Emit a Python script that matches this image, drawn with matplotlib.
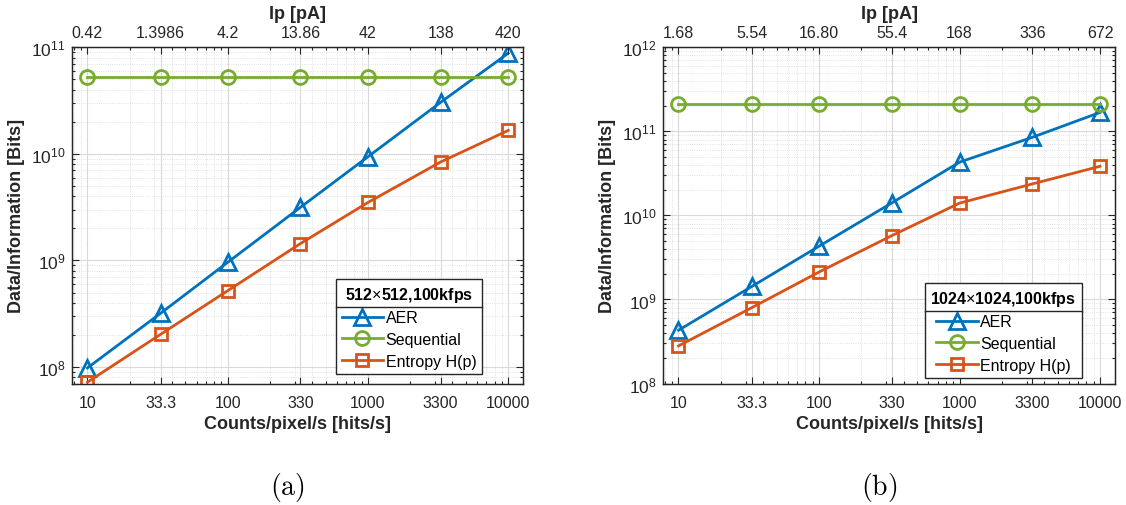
import matplotlib
matplotlib.use('Agg')
import matplotlib.pyplot as plt
from matplotlib.ticker import FixedLocator, NullFormatter, LogLocator
from matplotlib.lines import Line2D

plt.rcParams['font.family'] = ['Liberation Sans', 'DejaVu Sans']
plt.rcParams['mathtext.fontset'] = 'custom'
plt.rcParams['mathtext.rm'] = 'Liberation Sans'

# 数据
counts = [10, 33.3, 100, 330, 1000, 3300, 10000]
count_labels = ['10', '33.3', '100', '330', '1000', '3300', '10000']

ip_a = ['0.42', '1.3986', '4.2', '13.86', '42', '138', '420']
aer_a = [9.8e7, 3.2e8, 9.6e8, 3.15e9, 9.4e9, 3.05e10, 8.8e10]
seq_a = [5.3e10] * 7
ent_a = [7.2e7, 2.03e8, 5.2e8, 1.44e9, 3.5e9, 8.4e9, 1.66e10]

ip_b = ['1.68', '5.54', '16.80', '55.4', '168', '336', '672']
aer_b = [4.3e8, 1.43e9, 4.3e9, 1.41e10, 4.3e10, 8.5e10, 1.68e11]
seq_b = [2.12e11] * 7
ent_b = [2.8e8, 8.0e8, 2.12e9, 5.75e9, 1.4e10, 2.37e10, 3.84e10]

c_aer = '#0072BD'
c_seq = '#77AC30'
c_ent = '#D95319'
txt = '#262626'

fig = plt.figure(figsize=(11.26, 5.06), dpi=100)
ax1 = fig.add_axes([0.0642, 0.2401, 0.4005, 0.6644])
ax2 = fig.add_axes([0.5891, 0.2401, 0.4012, 0.6644])


def draw_panel(ax, ip_labels, aer, seq, ent, ylim, title, leg_pos):
    ax.plot(counts, aer, '-^', color=c_aer, lw=2, ms=11, mfc='none', mew=2, label='AER')
    ax.plot(counts, seq, '-o', color=c_seq, lw=2, ms=10, mfc='none', mew=2, label='Sequential')
    ax.plot(counts, ent, '-s', color=c_ent, lw=2, ms=9, mfc='none', mew=2, label='Entropy H(p)')
    ax.set_xscale('log')
    ax.set_yscale('log')
    ax.set_xlim(7.8, 12800)
    ax.set_ylim(*ylim)
    ax.xaxis.set_major_locator(FixedLocator(counts))
    ax.set_xticklabels(count_labels)
    ax.xaxis.set_minor_locator(LogLocator(base=10, subs=range(2, 10)))
    ax.xaxis.set_minor_formatter(NullFormatter())
    ax.yaxis.set_major_locator(LogLocator(base=10, numticks=10))
    ax.yaxis.set_minor_locator(LogLocator(base=10, subs=range(2, 10), numticks=10))
    ax.yaxis.set_minor_formatter(NullFormatter())
    ax.tick_params(which='both', direction='in', right=True, top=False, labelsize=11.5,
                   colors=txt, width=0.8)
    ax.tick_params(axis='x', which='major', pad=8)
    ax.tick_params(axis='y', which='major', labelsize=12.5, pad=5)
    ax.tick_params(which='major', length=5)
    ax.tick_params(which='minor', length=2.5)
    ax.grid(True, which='major', color='#d9d9d9', lw=0.8)
    ax.grid(True, which='minor', color='#d9d9d9', lw=0.6, ls=':')
    ax.set_axisbelow(True)
    for s in ax.spines.values():
        s.set_color(txt)
        s.set_linewidth(0.9)
    ax.set_xlabel('Counts/pixel/s [hits/s]', fontsize=13, fontweight='bold', color=txt, labelpad=4)
    ax.set_ylabel('Data/Information [Bits]', fontsize=13, fontweight='bold', color=txt, labelpad=4)

    # 顶部坐标轴 Ip
    top = ax.twiny()
    top.set_xscale('log')
    top.set_xlim(ax.get_xlim())
    top.xaxis.set_major_locator(FixedLocator(counts))
    top.set_xticklabels(ip_labels)
    top.xaxis.set_minor_locator(LogLocator(base=10, subs=range(2, 10)))
    top.xaxis.set_minor_formatter(NullFormatter())
    top.tick_params(which='both', direction='in', labelsize=11.5, colors=txt, width=0.8)
    top.tick_params(which='major', length=5, pad=5)
    top.tick_params(which='minor', length=2.5)
    for s in top.spines.values():
        s.set_color(txt)
        s.set_linewidth(0.9)
    top.set_xlabel('Ip [pA]', fontsize=13, fontweight='bold', color=txt, labelpad=5)

    leg = ax.legend(loc='upper left', bbox_to_anchor=leg_pos, title=title, fontsize=11.5,
                    title_fontproperties={'weight': 'bold', 'size': 11.5}, fancybox=False,
                    edgecolor=txt, framealpha=1, handlelength=2.6, handletextpad=0.15,
                    borderpad=0.35, labelspacing=0.42, borderaxespad=0)
    leg.get_frame().set_linewidth(1.0)
    leg.set_zorder(10)
    return leg


leg1 = draw_panel(ax1, ip_a, aer_a, seq_a, ent_a, (7e7, 1e11), '512$\\times$512,100kfps', (0.585, 0.311))
leg2 = draw_panel(ax2, ip_b, aer_b, seq_b, ent_b, (1e8, 1e12), '1024$\\times$1024,100kfps', (0.579, 0.299))

# 图例标题下的分隔线
fig.canvas.draw()
r = fig.canvas.get_renderer()
inv = fig.transFigure.inverted()
for leg in (leg1, leg2):
    fb = leg.get_frame().get_window_extent(r)
    tb = leg.get_title().get_window_extent(r)
    y = tb.y0 - 3
    (x0, yy), (x1, _) = inv.transform([(fb.x0, y), (fb.x1, y)])
    fig.add_artist(Line2D([x0, x1], [yy, yy], color=txt, lw=1.0, zorder=20))

fig.text(287 / 1126, 1 - 488 / 506, r'$\mathrm{(a)}$', fontsize=20, ha='center', va='center',
         math_fontfamily='cm')
fig.text(879 / 1126, 1 - 488 / 506, r'$\mathrm{(b)}$', fontsize=20, ha='center', va='center',
         math_fontfamily='cm')

fig.savefig('out.png', dpi=100)
